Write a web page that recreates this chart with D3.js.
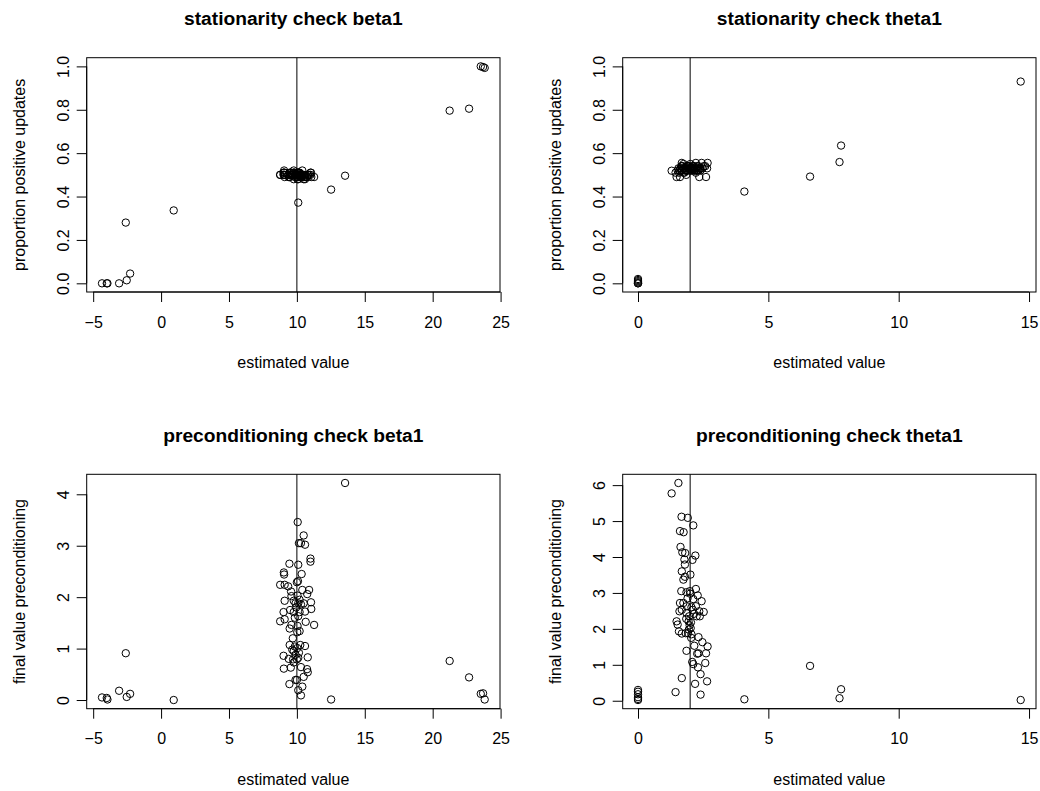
<!DOCTYPE html>
<meta charset="utf-8">
<style>
body { margin: 0; background: white; }
svg text { font-family: 'Liberation Sans', Arial, Helvetica, sans-serif; fill: black; }
</style>
<body>
<script src="https://cdn.jsdelivr.net/npm/d3@7/dist/d3.min.js"></script>
<script>
"use strict";

// beta1: estimated value, proportion positive updates, final preconditioning value (one entry per run)
var betaEst = [-4.35, -4.00, -3.95, -3.09, -2.53, -2.28, -2.60, 0.93, 12.52, 13.55, 21.25, 22.68, 23.54, 23.71, 23.83,
  10.06, 10.5, 10.15, 10.3, 10.6, 11.0, 11.0, 9.45, 10.1, 9.04, 9.06, 8.77, 9.1, 9.36, 9.57, 10.0, 10.08, 10.4, 10.9, 10.76,
  10.05, 9.1, 9.77, 9.9, 10.1, 10.3, 10.5, 11.04, 11.06, 9.5, 9.77, 10.6, 9.02, 10.2, 10.1, 8.77, 9.1, 10.65, 11.27, 9.6,
  9.47, 10.05, 10.2, 10.03, 9.47, 9.85, 10.25, 10.6, 9.66, 9.77, 10.03, 9.02, 9.4, 9.72, 10.1, 10.8, 9.77, 10.0, 9.04, 9.55,
  10.3, 10.75, 10.8, 10.5, 10.0, 9.9, 9.45, 10.4, 10.1, 10.3, 9.95, 10.2, 9.85, 9.9, 10.15, 9.6, 10.35, 9.7];
var betaProp = [0.000, 0.000, 0.000, 0.000, 0.014, 0.045, 0.280, 0.336, 0.432, 0.496, 0.796, 0.805, 1.000, 0.997, 0.993,
  0.50, 0.49, 0.51, 0.50, 0.49, 0.50, 0.51, 0.49, 0.50, 0.51, 0.52, 0.50, 0.49, 0.50, 0.51, 0.49, 0.50, 0.52, 0.50, 0.49,
  0.51, 0.50, 0.48, 0.50, 0.51, 0.49, 0.50, 0.51, 0.49, 0.50, 0.51, 0.48, 0.50, 0.50, 0.49, 0.50, 0.51, 0.50, 0.49, 0.50,
  0.51, 0.48, 0.50, 0.49, 0.50, 0.51, 0.50, 0.49, 0.50, 0.52, 0.50, 0.51, 0.49, 0.50, 0.48, 0.50, 0.51, 0.49, 0.50, 0.51,
  0.50, 0.49, 0.50, 0.48, 0.51, 0.50, 0.49, 0.50, 0.372, 0.49, 0.50, 0.51, 0.49, 0.50, 0.51, 0.50, 0.49, 0.50];
var betaPrecond = [0.05, 0.04, 0.01, 0.18, 0.06, 0.12, 0.91, 0.00, 0.01, 4.22, 0.76, 0.44, 0.12, 0.13, 0.01,
  3.46, 3.2, 3.05, 3.05, 3.02, 2.75, 2.69, 2.65, 2.63, 2.48, 2.44, 2.24, 2.24, 2.21, 2.11, 2.29, 2.31, 2.14, 2.14, 2.06,
  2.03, 1.93, 1.93, 1.88, 1.88, 1.86, 1.88, 1.9, 1.77, 1.75, 1.71, 1.72, 1.71, 1.71, 1.63, 1.53, 1.57, 1.52, 1.46, 1.46,
  1.39, 1.44, 1.34, 1.32, 1.07, 1.04, 1.07, 1.05, 0.98, 0.95, 1.01, 0.86, 0.8, 0.79, 0.82, 0.83, 0.73, 0.79, 0.61, 0.63,
  0.64, 0.6, 0.54, 0.45, 0.39, 0.39, 0.31, 0.26, 0.19, 0.09, 1.8, 1.95, 1.6, 0.88, 0.92, 2.02, 2.45, 1.2];

// theta1: estimated value, proportion positive updates, final preconditioning value
var thetaEst = [0, 0, 0, 0, 0, 0, 4.08, 6.60, 7.73, 7.79, 14.68,
  1.29, 1.55, 1.67, 1.91, 2.12, 1.61, 1.75, 1.63, 1.70, 1.81, 2.20, 1.78, 2.09, 1.80, 1.68, 2.01, 1.80, 1.74, 1.66, 1.86,
  1.99, 2.22, 2.29, 2.12, 2.44, 1.61, 1.74, 1.87, 1.68, 1.59, 2.10, 2.22, 2.35, 2.52, 2.25, 2.37, 1.86, 1.96, 1.94, 1.48,
  1.52, 1.57, 1.68, 1.83, 1.92, 2.02, 2.04, 2.32, 2.47, 2.67, 2.16, 1.86, 2.27, 2.32, 2.61, 2.08, 2.12, 2.58, 2.30, 2.40,
  1.68, 2.65, 2.19, 1.44, 2.40, 1.98, 2.03, 1.95, 2.05, 1.90, 2.00, 1.85, 2.15, 2.05];
var thetaProp = [0.020, 0.015, 0.010, 0.005, 0.000, 0.000, 0.423, 0.492, 0.559, 0.635, 0.930,
  0.519, 0.53, 0.52, 0.54, 0.53, 0.52, 0.55, 0.53, 0.54, 0.52, 0.53, 0.51, 0.54, 0.53, 0.52, 0.55, 0.53, 0.51, 0.54, 0.52,
  0.53, 0.555, 0.52, 0.54, 0.555, 0.49, 0.53, 0.52, 0.54, 0.52, 0.53, 0.51, 0.49, 0.54, 0.52, 0.53, 0.54, 0.52, 0.53, 0.49,
  0.52, 0.51, 0.53, 0.52, 0.54, 0.53, 0.52, 0.54, 0.53, 0.555, 0.52, 0.53, 0.54, 0.52, 0.49, 0.53, 0.52, 0.54, 0.53, 0.52,
  0.555, 0.53, 0.52, 0.51, 0.53, 0.53, 0.52, 0.54, 0.53, 0.52, 0.53, 0.50, 0.54, 0.53];
var thetaPrecond = [0.30, 0.25, 0.18, 0.10, 0.05, 0.02, 0.04, 0.97, 0.07, 0.32, 0.02,
  5.77, 6.06, 5.12, 5.09, 4.88, 4.72, 4.69, 4.28, 4.13, 4.11, 4.04, 3.93, 3.92, 3.79, 3.60, 3.51, 3.45, 3.37, 3.05, 3.02,
  3.05, 3.11, 2.93, 2.83, 2.77, 2.72, 2.72, 2.63, 2.53, 2.49, 2.53, 2.63, 2.49, 2.47, 2.35, 2.35, 2.44, 2.35, 2.21, 2.21,
  2.12, 1.93, 1.87, 1.88, 1.88, 2.02, 1.75, 1.77, 1.63, 1.51, 1.53, 1.39, 1.31, 1.32, 1.32, 1.08, 1.02, 1.05, 0.93, 0.74,
  0.63, 0.54, 0.47, 0.24, 0.17, 2.10, 2.18, 1.98, 2.60, 2.85, 2.98, 2.28, 2.42, 1.85];

// reference (true) values drawn as vertical lines
var betaTrue = 10;
var thetaTrue = 2;

// fixed y limits of the proportion plots
var propLim = [0, 1];

// tick values and labels
var betaXTicks = [-5, 0, 5, 10, 15, 20, 25];
var thetaXTicks = [0, 5, 10, 15];
var propTicks = [0, 0.2, 0.4, 0.6, 0.8, 1.0];
var propTickLabels = ["0.0", "0.2", "0.4", "0.6", "0.8", "1.0"];
var betaPrecondTicks = [0, 1, 2, 3, 4];
var thetaPrecondTicks = [0, 1, 2, 3, 4, 5, 6];

var W = 1040, H = 791;
var svg = d3.select("body").append("svg").attr("width", W).attr("height", H);

// R-style axis range: range padded by 4% on each side
function rDomain(v) {
  var e = d3.extent(v), pad = (e[1] - e[0]) * 0.04;
  return [e[0] - pad, e[1] + pad];
}

function minus(s) { return String(s).replace("-", "\u2212"); }

function panel(cfg) {
  var b = cfg.box;
  var x = d3.scaleLinear().domain(rDomain(cfg.xs)).range([b.left, b.right]);
  var y = d3.scaleLinear().domain(rDomain(cfg.ylim || cfg.ys)).range([b.bottom, b.top]);
  var g = svg.append("g");

  // x axis
  var xa = g.append("g")
    .attr("transform", "translate(0," + b.bottom + ")")
    .call(d3.axisBottom(x).tickValues(cfg.xTicks).tickSize(10).tickSizeOuter(0).tickFormat(minus));
  xa.select(".domain").attr("d", "M" + x(cfg.xTicks[0]) + ",0H" + x(cfg.xTicks[cfg.xTicks.length - 1]));
  xa.selectAll(".tick text").attr("y", 30).attr("dy", "0.35em").style("font-size", "16px")
    .style("font-family", "'Liberation Sans', Arial, sans-serif");

  // y axis, labels parallel to the axis
  var ya = g.append("g")
    .attr("transform", "translate(" + b.left + ",0)")
    .call(d3.axisLeft(y).tickValues(cfg.yTicks).tickSize(10).tickSizeOuter(0)
      .tickFormat(function(d, i) { return cfg.yLabels ? cfg.yLabels[i] : d; }));
  ya.select(".domain").attr("d", "M0," + y(cfg.yTicks[0]) + "V" + y(cfg.yTicks[cfg.yTicks.length - 1]));
  ya.selectAll(".tick text")
    .attr("x", null).attr("dy", null)
    .attr("transform", "translate(-18,0) rotate(-90)")
    .attr("text-anchor", "middle")
    .style("font-size", "16px")
    .style("font-family", "'Liberation Sans', Arial, sans-serif");
  g.selectAll(".domain, .tick line").attr("stroke", "black").attr("stroke-width", 1);

  // frame
  g.append("rect")
    .attr("x", b.left).attr("y", b.top)
    .attr("width", b.right - b.left).attr("height", b.bottom - b.top)
    .attr("fill", "none").attr("stroke", "black").attr("stroke-width", 1);

  // points
  g.append("g").selectAll("circle")
    .data(cfg.xs.map(function(d, i) { return [d, cfg.ys[i]]; }))
    .enter().append("circle")
    .attr("cx", function(d) { return x(d[0]); })
    .attr("cy", function(d) { return y(d[1]); })
    .attr("r", 3.7)
    .attr("fill", "none").attr("stroke", "black").attr("stroke-width", 1);

  // true value line
  g.append("line")
    .attr("x1", x(cfg.vline)).attr("x2", x(cfg.vline))
    .attr("y1", b.top).attr("y2", b.bottom)
    .attr("stroke", "black").attr("stroke-width", 1);

  // titles
  g.append("text")
    .attr("x", (b.left + b.right) / 2).attr("y", b.top - 32.7)
    .attr("text-anchor", "middle")
    .style("font-size", "19.2px").style("font-weight", "bold")
    .text(cfg.title);
  g.append("text")
    .attr("x", (b.left + b.right) / 2).attr("y", b.bottom + 76)
    .attr("text-anchor", "middle")
    .style("font-size", "16px")
    .text("estimated value");
  g.append("text")
    .attr("transform", "translate(" + (b.left - 62) + "," + ((b.top + b.bottom) / 2) + ") rotate(-90)")
    .attr("text-anchor", "middle")
    .style("font-size", "16px")
    .text(cfg.ylab);
}

var boxTL = { left: 86.7, right: 500, top: 57.7, bottom: 292 };
var boxTR = { left: 622.7, right: 1036, top: 57.7, bottom: 292 };
var boxBL = { left: 86.7, right: 500, top: 474.3, bottom: 708.7 };
var boxBR = { left: 622.7, right: 1036, top: 474.3, bottom: 708.7 };

panel({ box: boxTL, xs: betaEst, ys: betaProp, ylim: propLim, xTicks: betaXTicks, yTicks: propTicks, yLabels: propTickLabels,
  vline: betaTrue, title: "stationarity check beta1", ylab: "proportion positive updates" });
panel({ box: boxTR, xs: thetaEst, ys: thetaProp, ylim: propLim, xTicks: thetaXTicks, yTicks: propTicks, yLabels: propTickLabels,
  vline: thetaTrue, title: "stationarity check theta1", ylab: "proportion positive updates" });
panel({ box: boxBL, xs: betaEst, ys: betaPrecond, xTicks: betaXTicks, yTicks: betaPrecondTicks,
  vline: betaTrue, title: "preconditioning check beta1", ylab: "final value preconditioning" });
panel({ box: boxBR, xs: thetaEst, ys: thetaPrecond, xTicks: thetaXTicks, yTicks: thetaPrecondTicks,
  vline: thetaTrue, title: "preconditioning check theta1", ylab: "final value preconditioning" });
</script>
</body>
